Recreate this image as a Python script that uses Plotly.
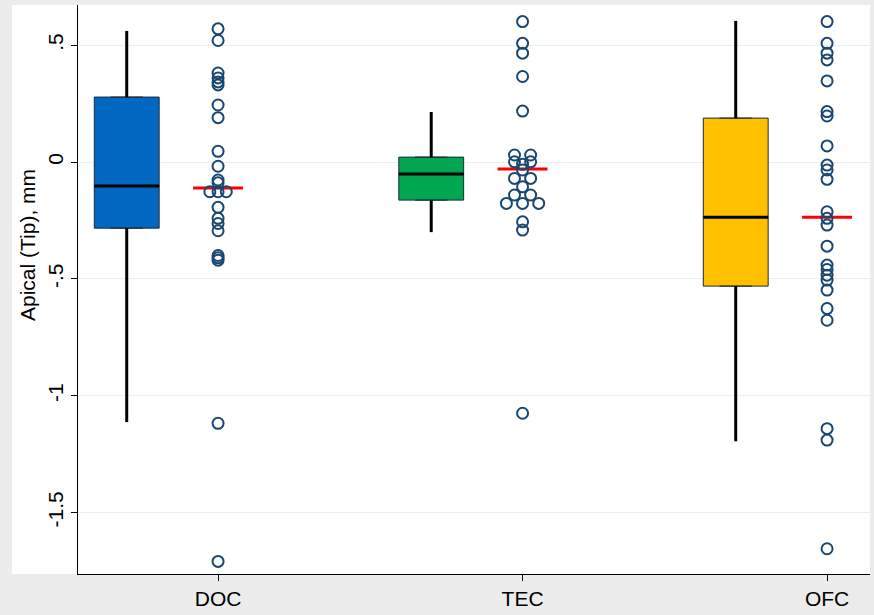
import plotly.graph_objects as go

# ---------------- data ----------------
groups = ["DOC", "TEC", "OFC"]

doc_vals = [0.57, 0.52, 0.381, 0.36, 0.343, 0.33, 0.244, 0.19, 0.046, -0.018,
            -0.077, -0.089, -0.127, -0.127, -0.127, -0.194, -0.241, -0.263,
            -0.294, -0.40, -0.41, -0.42, -1.118, -1.709]
tec_vals = [0.601, 0.508, 0.466, 0.366, 0.218, 0.030, 0.030, 0.001, 0.001,
            -0.009, -0.034, -0.070, -0.070, -0.106, -0.141, -0.141, -0.177,
            -0.177, -0.177, -0.256, -0.291, -1.075]
ofc_vals = [0.601, 0.508, 0.466, 0.437, 0.347, 0.216, 0.197, 0.069, -0.013,
            -0.034, -0.074, -0.213, -0.241, -0.27, -0.36, -0.441, -0.46, -0.484,
            -0.505, -0.548, -0.627, -0.677, -1.141, -1.19, -1.655]

# box statistics
q1 = [-0.283, -0.163, -0.531]
median = [-0.103, -0.051, -0.236]
q3 = [0.278, 0.021, 0.188]
lower_whisker = [-1.113, -0.300, -1.195]
upper_whisker = [0.561, 0.214, 0.604]
means = [-0.111, -0.030, -0.236]

y_tickvals = [0.5, 0, -0.5, -1, -1.5]
y_ticktext = [".5", "0", "-.5", "-1", "-1.5"]

# ---------------- style ----------------
box_colors = ["#0068c0", "#00a650", "#ffc000"]
point_color = "#1a476f"
box_offset = 0.30
box_width = 0.213
mean_half = 0.082
swarm_spacing = {"DOC": 0.027, "TEC": 0.053, "OFC": 0.027}
font_family = "Liberation Sans, Arial, sans-serif"
font_size = 21

values = {"DOC": doc_vals, "TEC": tec_vals, "OFC": ofc_vals}

fig = go.Figure()

for i, g in enumerate(groups):
    pos = i + 1
    bx = pos - box_offset
    # whiskers (thick black)
    fig.add_trace(go.Scatter(
        x=[bx, bx, None, bx, bx],
        y=[q3[i], upper_whisker[i], None, q1[i], lower_whisker[i]],
        mode="lines", line=dict(color="black", width=3),
        hoverinfo="skip", showlegend=False))
    # box
    fig.add_trace(go.Box(
        x=[bx], q1=[q1[i]], median=[median[i]], q3=[q3[i]],
        lowerfence=[q1[i]], upperfence=[q3[i]],
        width=box_width, fillcolor=box_colors[i],
        line=dict(color="#1c2a3a", width=1),
        boxpoints=False, showlegend=False, name=g))
    # median line (thick)
    fig.add_trace(go.Scatter(
        x=[bx - box_width / 2, bx + box_width / 2], y=[median[i], median[i]],
        mode="lines", line=dict(color="black", width=3),
        hoverinfo="skip", showlegend=False))
    # mean line (red)
    fig.add_trace(go.Scatter(
        x=[pos - mean_half, pos + mean_half], y=[means[i], means[i]],
        mode="lines", line=dict(color="#ff0000", width=3),
        hoverinfo="skip", showlegend=False))
    # points: simple swarm of identical values
    vals = values[g]
    counts = {}
    for v in vals:
        counts[v] = counts.get(v, 0) + 1
    seen = {}
    xs = []
    for v in vals:
        n = counts[v]
        k = seen.get(v, 0)
        seen[v] = k + 1
        xs.append(pos + (k - (n - 1) / 2) * swarm_spacing[g])
    fig.add_trace(go.Scatter(
        x=xs, y=vals, mode="markers",
        marker=dict(symbol="circle-open", size=11, color=point_color,
                    line=dict(width=2, color=point_color)),
        showlegend=False))

# white background panel extending into left margin
fig.add_shape(type="rect", xref="paper", yref="paper",
              x0=(12 - 78) / 792, x1=1.0, y0=0, y1=1.0,
              fillcolor="white", line=dict(width=0), layer="below")

fig.update_layout(
    width=874, height=615,
    margin=dict(l=78, r=4, t=5, b=41),
    paper_bgcolor="#ececec", plot_bgcolor="white",
    font=dict(family=font_family, size=font_size, color="black"),
    xaxis=dict(range=[0.540, 3.141], tickvals=[1, 2, 3], ticktext=groups,
               showgrid=False, zeroline=False, showline=True,
               linecolor="black", linewidth=1, ticks="outside",
               ticklen=6, tickcolor="black", tickfont=dict(size=font_size),
               automargin=False),
    yaxis=dict(range=[-1.763, 0.672], tickvals=y_tickvals, ticktext=y_ticktext,
               tickangle=-90, showgrid=True, gridcolor="#e6eff1", gridwidth=1,
               zeroline=False, showline=True, linecolor="black", linewidth=1,
               ticks="outside", ticklen=6, tickcolor="black",
               tickfont=dict(size=font_size), automargin=False),
    annotations=[dict(text="Apical (Tip), mm", xref="paper", yref="paper",
                      x=(28 - 78) / 792, y=(574 - 245) / 569,
                      xanchor="center", yanchor="middle", textangle=-90,
                      showarrow=False, font=dict(size=font_size))],
)

fig.write_html("out.html",
               config={"displayModeBar": False},
               post_script="document.body.style.margin='0';"
                           "document.body.style.padding='0';")
